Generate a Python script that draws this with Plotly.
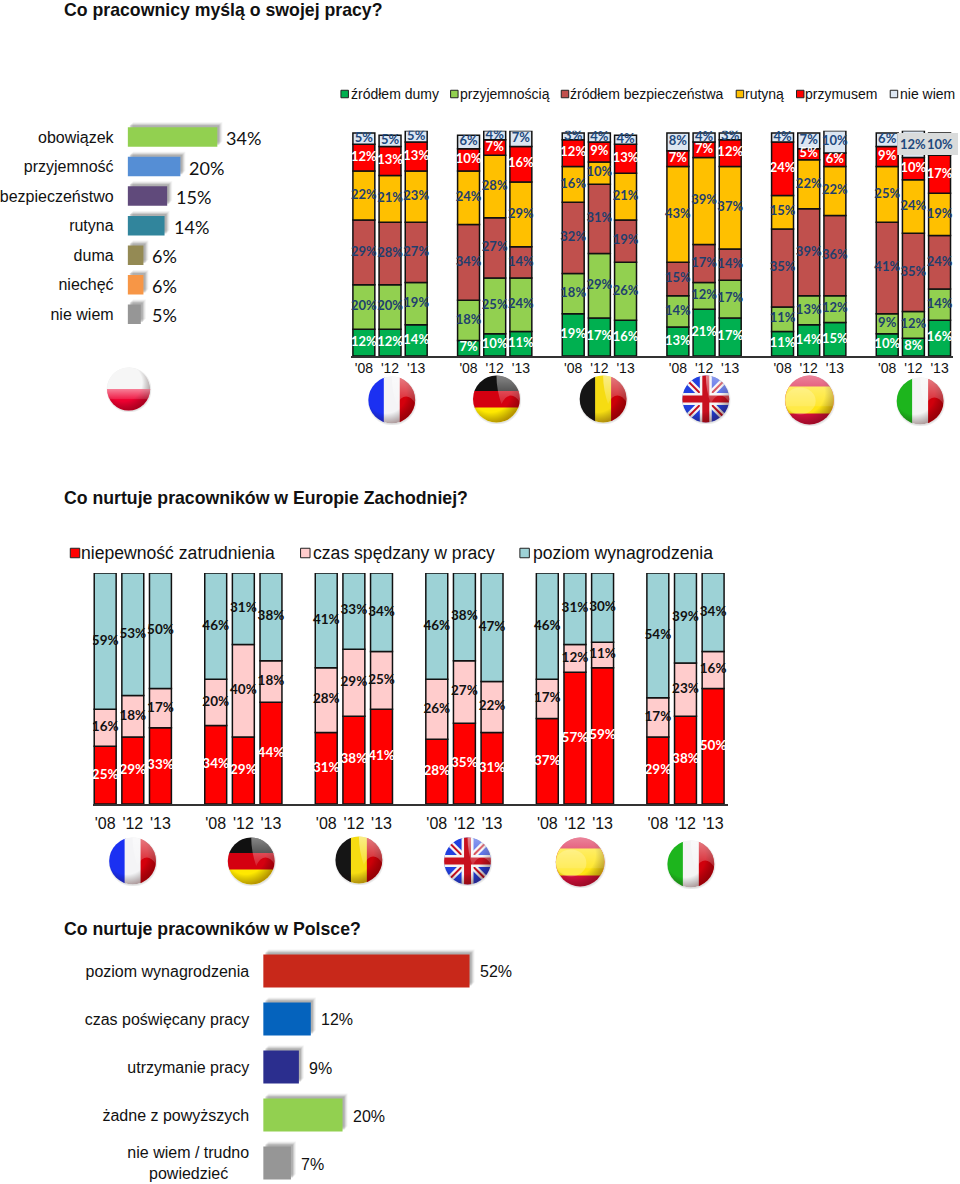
import base64
import numpy as np
import plotly.graph_objects as go

W, H = 960, 1184
YEARS = ["'08", "'12", "'13"]

# --- chart A: Poland, attitudes
a_labels = ["obowiązek", "przyjemność", "bezpieczeństwo", "rutyna", "duma", "niechęć", "nie wiem"]
a_values = [34, 20, 15, 14, 6, 6, 5]
a_colors = ["#92D050", "#558ED5", "#604A7B", "#31859C", "#948A54", "#F79646", "#969696"]

# --- chart B: Western Europe, attitudes (FR, DE, BE, UK, ES, IT; '08 '12 '13 each)
b_names = ["źródłem dumy", "przyjemnością", "źródłem bezpieczeństwa", "rutyną", "przymusem", "nie wiem"]
b_colors = ["#00B050", "#92D050", "#C0504D", "#FFC000", "#FF0000", "#DCE6F2"]
b_text = ["white", "#1F3F6E", "#1F3F6E", "#1F3F6E", "white", "#1F497D"]
b_duma = [12, 12, 14, 7, 10, 11, 19, 17, 16, 13, 21, 17, 11, 14, 15, 10, 8, 16]
b_przyj = [20, 20, 19, 18, 25, 24, 18, 29, 26, 14, 12, 17, 11, 13, 12, 9, 12, 14]
b_bezp = [29, 28, 27, 34, 27, 14, 32, 31, 19, 15, 17, 14, 35, 39, 36, 41, 35, 24]
b_rutyna = [22, 21, 23, 24, 28, 29, 16, 10, 21, 43, 39, 37, 15, 22, 22, 25, 24, 19]
b_przym = [12, 13, 13, 10, 7, 16, 12, 9, 13, 7, 7, 12, 24, 5, 6, 9, 10, 17]
b_niewiem = [5, 5, 5, 6, 4, 7, 3, 4, 4, 8, 4, 3, 4, 7, 10, 6, 12, 10]

# --- chart C: Western Europe, concerns
c_names = ["niepewność zatrudnienia", "czas spędzany w pracy", "poziom wynagrodzenia"]
c_colors = ["#FF0000", "#FFCCCC", "#9DD2D6"]
c_text = ["white", "#111111", "#111111"]
c_niep = [25, 29, 33, 34, 29, 44, 31, 38, 41, 28, 35, 31, 37, 57, 59, 29, 38, 50]
c_czas = [16, 18, 17, 20, 40, 18, 28, 29, 25, 26, 27, 22, 17, 12, 11, 17, 23, 16]
c_poziom = [59, 53, 50, 46, 31, 38, 41, 33, 34, 46, 38, 47, 46, 31, 30, 54, 39, 34]

# --- chart D: Poland, concerns
d_labels = ["poziom wynagrodzenia", "czas poświęcany pracy", "utrzymanie pracy", "żadne z powyższych",
            "nie wiem / trudno<br>powiedzieć&#160;&#160;&#160;&#160;&#8201;"]
d_values = [52, 12, 9, 20, 7]
d_colors = ["#C8281A", "#0563BD", "#2B2E8E", "#92D050", "#969696"]

ARIAL = "Liberation Sans"
CAL = "Lato"
fig = go.Figure()
layout = {}
annots, shapes, images = [], [], []
n_ax = [0]


def px(x):
    return x / W


def py(y):
    return 1 - y / H


def new_axes(x0, x1, y0, y1, xax, yax):
    n_ax[0] += 1
    s = "" if n_ax[0] == 1 else str(n_ax[0])
    base = dict(showgrid=False, zeroline=False, showline=False, showticklabels=False, ticks="")
    xd = dict(base); xd.update(domain=[px(x0), px(x1)], anchor="y" + s); xd.update(xax)
    yd = dict(base); yd.update(domain=[py(y1), py(y0)], anchor="x" + s); yd.update(yax)
    layout["xaxis" + s] = xd
    layout["yaxis" + s] = yd
    return "x" + s, "y" + s


def hbar_chart(labels, values, colors, x0, x1, y0, y1, x_scale, first_c, slot, gap,
               tick_size, standoff, val_font, val_gap, val_x):
    xr = [0, (x1 - x0) / x_scale]
    yr = [(y1 - first_c) / slot, (y0 - first_c) / slot]
    # soft shadow: same values on shifted axes
    for dx, alpha in ((5, 0.07), (4, 0.10), (3, 0.16), (2, 0.22)):
        xa, ya = new_axes(x0 + dx, x1 + dx, y0 - dx, y1 - dx,
                          dict(range=xr), dict(range=yr, type="linear"))
        fig.add_trace(go.Bar(x=values, y=list(range(len(values))), orientation="h", width=1 - gap,
                             marker=dict(color=f"rgba(80,80,80,{alpha})", line_width=0),
                             xaxis=xa, yaxis=ya, hoverinfo="skip"))
    xa, ya = new_axes(x0, x1, y0, y1, dict(range=xr),
                      dict(range=yr, type="linear", showticklabels=True, tickmode="array",
                           tickvals=list(range(len(labels))), ticktext=labels,
                           tickfont=dict(family=ARIAL, size=tick_size, color="#111111"),
                           ticklabelstandoff=standoff))
    fig.add_trace(go.Bar(x=values, y=list(range(len(values))), orientation="h", width=1 - gap,
                         marker=dict(color=colors, line_width=0), xaxis=xa, yaxis=ya))
    for i, v in enumerate(values):
        annots.append(dict(x=val_x(v), y=i, xref=xa, yref=ya, text=f"{v}%", showarrow=False,
                           xanchor="left", xshift=val_gap, yshift=-1,
                           font=dict(family=val_font[0], size=val_font[1], color="#111111")))


def stacked_chart(series, names, colors, tcolors, x0, x1, y0, y1, ymax, c0, spacing, bar_px, tick_size,
                  standoff, lw, txt_size, hide_top=False):
    xs = np.array([g * 4 + i for g in range(6) for i in range(3)], dtype=float)
    xr = [(x0 - c0) / spacing, (x1 - c0) / spacing]
    xa, ya = new_axes(x0, x1, y0, y1,
                      dict(range=xr, showline=True, linecolor="#333333", linewidth=2,
                           showticklabels=True, tickmode="array", tickvals=list(xs),
                           ticktext=YEARS * 6, tickangle=0,
                           tickfont=dict(family=ARIAL, size=tick_size, color="#111111"),
                           ticklabelstandoff=standoff),
                      dict(range=[0, ymax]))
    bottom = np.zeros(len(xs))
    for k, vals in enumerate(series):
        vals = np.array(vals, dtype=float)
        fig.add_trace(go.Bar(x=xs, y=vals, base=bottom, width=bar_px / spacing, name=names[k],
                             marker=dict(color=colors[k], line=dict(color="#111111", width=lw)),
                             xaxis=xa, yaxis=ya))
        mids = bottom + vals / 2
        labels = [f"{int(v)}%" for v in vals]
        if hide_top and k == len(series) - 1:
            for i in (16, 17):
                annots.append(dict(x=xs[i], y=mids[i], xref=xa, yref=ya, text=f"<b>{labels[i]}</b>", showarrow=False,
                                   font=dict(family=CAL, size=txt_size, color=tcolors[k])))
                labels[i] = ""
        fig.add_trace(go.Scatter(x=xs, y=mids, mode="text", text=labels,
                                 textfont=dict(family=CAL, size=txt_size, color=tcolors[k], weight=700),
                                 xaxis=xa, yaxis=ya, hoverinfo="skip"))
        bottom = bottom + vals


hbar_chart(a_labels, a_values, a_colors, 125, 340, 122.3, 329, 90 / 34, 137, 29.55, 0.34, 16, 13,
           (CAL, 18), 7, lambda v: max(v, 6))
stacked_chart([b_duma, b_przyj, b_bezp, b_rutyna, b_przym, b_niewiem], b_names, b_colors, b_text,
              349, 953, 130.8, 356, 101, 362, 26.25, 22, 14, -2, 1.5, 13, hide_top=True)
stacked_chart([c_niep, c_czas, c_poziom], c_names, c_colors, c_text,
              90, 727, 573, 804, 100, 102.5, 27.72, 22, 16, 4, 1.5, 13.5)
hbar_chart(d_labels, d_values, d_colors, 261, 700, 947, 1184, 207 / 52, 971, 48, 0.31, 16, 13,
           (ARIAL, 16), 8, lambda v: v)


def text_at(x, y, s, size, bold=False, color="#111111"):
    annots.append(dict(x=px(x), y=py(y), xref="paper", yref="paper", text=f"<b>{s}</b>" if bold else s,
                       showarrow=False, xanchor="left", yanchor="middle", xshift=-3,
                       font=dict(family=ARIAL, size=size, color=color)))


text_at(62, 10.5, "Co pracownicy myślą o swojej pracy?", 17.7, True)
text_at(62, 498, "Co nurtuje pracowników w Europie Zachodniej?", 17.7, True)
text_at(62, 929, "Co nurtuje pracowników w Polsce?", 17.7, True)


def swatch(x0, x1, yc, color):
    h = (x1 - x0) / 2
    shapes.append(dict(type="rect", xref="paper", yref="paper", x0=px(x0), x1=px(x1), y0=py(yc + h), y1=py(yc - h),
                       fillcolor=color, line=dict(color="#222222", width=1), layer="above"))


for name, col, sx, tx in zip(b_names, b_colors, [339, 449, 560, 735.5, 796, 890],
                             [350, 459, 570, 745, 806, 901]):
    swatch(sx, sx + 7.5, 94, col)
    text_at(tx, 94, name, 14)
for name, col, sx, tx in zip(c_names, c_colors, [67.5, 298.5, 518.5], [79, 312, 533]):
    swatch(sx, sx + 9.5, 553, col)
    text_at(tx, 553, name, 17.6)

# grey box behind the two top labels of Italy
shapes.append(dict(type="rect", xref="paper", yref="paper", x0=px(897), x1=px(958), y0=py(155), y1=py(133),
                   fillcolor="#D9DBDB", line_width=0, layer="above"))


# --- glossy flag badges
def flag_svg(kind):
    c = ""
    if kind == "FR":
        c = '<rect x="0" width="36" height="100" fill="#1B30F2"/><rect x="34" width="33" height="100" fill="#F4F4F6"/><rect x="66" width="34" height="100" fill="#D4000C"/>'
    elif kind == "BE":
        c = '<rect x="0" width="35" height="100" fill="#151515"/><rect x="34" width="33" height="100" fill="#F6DC12"/><rect x="66" width="34" height="100" fill="#CC0008"/>'
    elif kind == "IT":
        c = '<rect x="0" width="35" height="100" fill="#1DB51D"/><rect x="34" width="33" height="100" fill="#F4F4F4"/><rect x="66" width="34" height="100" fill="#D0000C"/>'
    elif kind == "DE":
        c = '<rect y="0" width="100" height="35" fill="#111111"/><rect y="34" width="100" height="34" fill="#D40010"/><rect y="67" width="100" height="33" fill="#FFE800"/>'
    elif kind == "ES":
        c = '<rect width="100" height="100" fill="#D8103C"/><rect y="24" width="100" height="52" fill="#FFE414"/>'
    elif kind == "PL":
        c = '<rect width="100" height="50" fill="#F6F6F6"/><rect y="50" width="100" height="50" fill="#EE0030"/>'
    elif kind == "UK":
        c = ('<rect width="100" height="100" fill="#2140E0"/>'
             '<path d="M0 0L100 100M100 0L0 100" stroke="#F4F4F4" stroke-width="13"/>'
             '<path d="M0 0L100 100M100 0L0 100" stroke="#C8101E" stroke-width="4"/>'
             '<path d="M50 0V100M0 50H100" stroke="#F4F4F4" stroke-width="24"/>'
             '<path d="M50 0V100M0 50H100" stroke="#C8101E" stroke-width="14"/>')
    if kind == "PL":
        gloss = '<rect y="50" width="100" height="22" fill="url(#g)"/>'
    elif kind == "ES":
        gloss = '<rect width="100" height="62" fill="url(#g)"/><ellipse cx="32" cy="52" rx="30" ry="26" fill="#fff" opacity=".22"/>'
    else:
        gloss = '<path d="M50 2A48 48 0 0 1 98 58C86 38 70 38 60 60C54 42 50 24 50 2Z" fill="url(#g)"/>'
    svg = ('<svg xmlns="http://www.w3.org/2000/svg" width="200" height="200" viewBox="0 0 100 100">'
           '<defs><clipPath id="c"><circle cx="50" cy="50" r="47"/></clipPath>'
           '<radialGradient id="s" cx="38%" cy="35%" r="72%"><stop offset="60%" stop-color="#000" stop-opacity="0"/>'
           '<stop offset="100%" stop-color="#400" stop-opacity=".45"/></radialGradient>'
           '<linearGradient id="g" x1="0" y1="0" x2="0" y2="1"><stop offset="0" stop-color="#fff" stop-opacity=".5"/>'
           '<stop offset="1" stop-color="#fff" stop-opacity=".12"/></linearGradient>'
           '<radialGradient id="b"><stop offset="88%" stop-color="#777" stop-opacity=".35"/>'
           '<stop offset="100%" stop-color="#777" stop-opacity="0"/></radialGradient></defs>'
           '<circle cx="51" cy="52" r="50" fill="url(#b)"/>'
           f'<g clip-path="url(#c)">{c}'
           '<circle cx="50" cy="50" r="47" fill="url(#s)"/>'
           f'{gloss}</g></svg>')
    return "data:image/svg+xml;base64," + base64.b64encode(svg.encode()).decode()


flags = [("PL", 126, 389, 23), ("FR", 390, 400, 25), ("DE", 495, 399, 25), ("BE", 602, 399, 25),
         ("UK", 705, 399, 25), ("ES", 809, 400, 26), ("IT", 920, 401, 25),
         ("FR", 130, 861, 25), ("DE", 249, 861, 25), ("BE", 357, 860, 25), ("UK", 466, 861, 25),
         ("ES", 579, 862, 26), ("IT", 690, 864, 25)]
for kind, cx, cy, r in flags:
    images.append(dict(source=flag_svg(kind), xref="paper", yref="paper", x=px(cx - r), y=py(cy - r),
                       sizex=2 * r / W, sizey=2 * r / H, sizing="stretch", xanchor="left", yanchor="top", layer="above"))

fig.update_layout(width=W, height=H, margin=dict(l=0, r=0, t=0, b=0), paper_bgcolor="white", plot_bgcolor="rgba(0,0,0,0)",
                  barmode="overlay", showlegend=False, autosize=False, annotations=annots, shapes=shapes, images=images,
                  **layout)
fig.write_html("out.html", config={"displayModeBar": False},
               post_script="document.body.style.margin='0';document.documentElement.style.overflow='hidden';")
